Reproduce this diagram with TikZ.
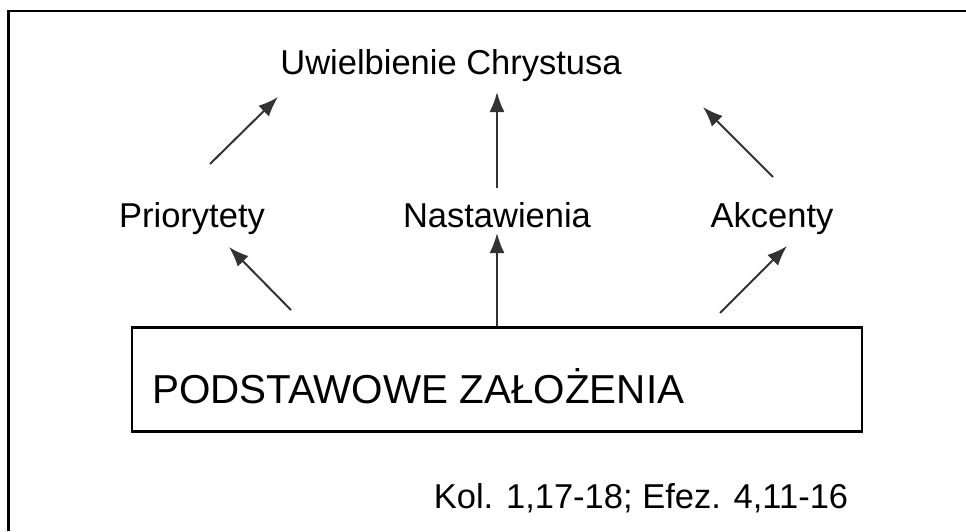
\documentclass[tikz,border=0pt]{standalone}
\usepackage{fontspec}
\setmainfont{Liberation Sans}
\usetikzlibrary{arrows.meta}

\begin{document}
\begin{tikzpicture}[x=1pt, y=-1pt,
		napis/.style = {anchor = base, inner sep = 0pt,
		font = \fontsize{34.5}{40}\selectfont},
		strzalka/.style = {draw = black!80, line width = 2pt,
		-{Latex[length = 20pt, width = 15pt]}}]
\useasboundingbox (0,0) rectangle (966,531);

% Ramka
\draw[line width = 2.4pt] (966,11) -- (8.5,11) -- (8.5,531);

% Nodos
\node[napis] (cel) at (451,74) {Uwielbienie Chrystusa};
\node[napis] (prio) at (192,227) {Priorytety};
\node[napis] (nast) at (497,227) {Nastawienia};
\node[napis] (akc) at (772,227) {Akcenty};
\node[draw = black, line width = 2.4pt, minimum width = 730pt,
	minimum height = 104pt, inner sep = 0pt] (baza) at (497,379.5) {};
\node[napis, anchor = base west, font = \fontsize{40.4}{46}\selectfont]
	(zal) at (152,403) {PODSTAWOWE ZAŁOŻENIA};
\node[napis] (kol) at (641,508) {Kol. 1,17-18; Efez. 4,11-16};

% Punkty
\coordinate (p1) at (210,164);
\coordinate (p2) at (278,97);
\coordinate (p3) at (497,188);
\coordinate (p4) at (497,92);
\coordinate (p5) at (773,177);
\coordinate (p6) at (703,107);
\coordinate (p7) at (291,310);
\coordinate (p8) at (229,247);
\coordinate (p9) at (497,233);
\coordinate (p10) at (720,313);
\coordinate (p11) at (787,246);

% Strzalki
\draw[strzalka] (p1) -- (p2);
\draw[strzalka] (p3) -- (p4);
\draw[strzalka] (p5) -- (p6);
\draw[strzalka] (p7) -- (p8);
\draw[strzalka] (baza.north -| p9) -- (p9);
\draw[strzalka] (p10) -- (p11);
\end{tikzpicture}
\end{document}
